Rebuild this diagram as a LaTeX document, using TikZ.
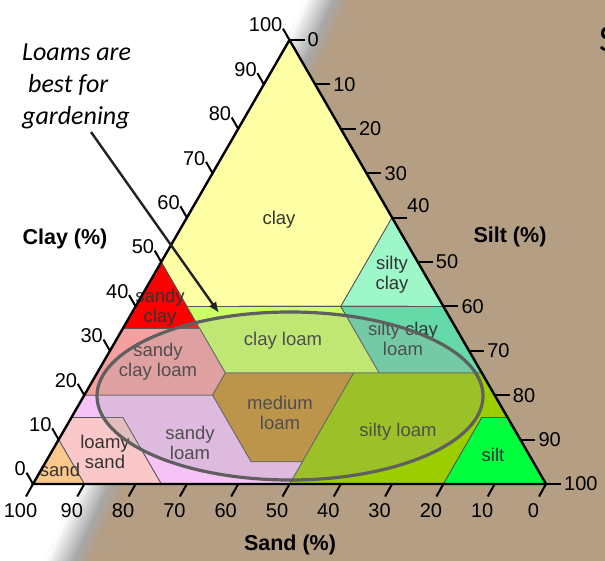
\documentclass[tikz,border=0pt]{standalone}
\usepackage{fontspec}
\setmainfont{Liberation Sans}
\newfontfamily\calib{Carlito}
\usetikzlibrary{arrows.meta}
\definecolor{bgtan}{HTML}{B49E84}
\definecolor{shd}{HTML}{A8A8A8}
\definecolor{cClay}{HTML}{FFFFA5}
\definecolor{cSiltyClay}{HTML}{9DF7C9}
\definecolor{cSandyClay}{HTML}{FF0000}
\definecolor{cClayLoam}{HTML}{CCFF66}
\definecolor{cSiltyClayLoam}{HTML}{66D9A8}
\definecolor{cSandyClayLoam}{HTML}{F4A0A0}
\definecolor{cMedLoam}{HTML}{C8922E}
\definecolor{cSiltyLoam}{HTML}{9BCD00}
\definecolor{cSandyLoam}{HTML}{F5C3F5}
\definecolor{cLoamySand}{HTML}{FAC8C8}
\definecolor{cSand}{HTML}{FAC88C}
\definecolor{cSilt}{HTML}{00FF3C}
\definecolor{edgegray}{HTML}{555555}
\definecolor{ellgray}{HTML}{5F5F5F}
\definecolor{overlay}{HTML}{A0A0A0}
\definecolor{lbl}{HTML}{333333}
\definecolor{arrc}{HTML}{222222}
\begin{document}
\begin{tikzpicture}[x=1pt,y=-1pt,
  region/.style={draw=edgegray,line width=0.8pt,line join=round},
  rlabel/.style={text=lbl,font=\fontsize{18.5}{20}\selectfont,align=center,inner sep=0pt},
  num/.style={font=\fontsize{20}{24}\selectfont,inner sep=0pt},
  axtitle/.style={font=\bfseries\fontsize{21.5}{25}\selectfont,inner sep=0pt},
  tk/.style={line width=2pt,black},
  notetext/.style={font=\calib\itshape\fontsize{26}{32}\selectfont,inner sep=0pt,anchor=base west}]
\useasboundingbox (0,0) rectangle (605,561);
% background
\fill[bgtan] (0,0) rectangle (605,561);
\fill[white] (0,0) -- (305,0) -- (45,561) -- (0,561) -- cycle;
\foreach \d in {0,2,...,44}{
  \pgfmathsetmacro\pa{min(100,\d*100/28)}
  \pgfmathsetmacro\pb{max(0,(\d-28)*100/16)}
  \colorlet{bandA}{shd!\pa!white}
  \colorlet{bandB}{bgtan!\pb!bandA}
  \fill[bandB] (305+\d,0) -- (308+\d,0) -- (48+\d,561) -- (45+\d,561) -- cycle;
}
% triangle corners
\coordinate (SA) at (33,484);
\coordinate (SI) at (546,484);
\coordinate (CL) at (289.5,40);
% region vertices (sand, clay, silt) as fractions
\coordinate (vB) at (barycentric cs:SA=0.50,CL=0.50);
\coordinate (vC) at (barycentric cs:SA=0.65,CL=0.35);
\coordinate (vD) at (barycentric cs:SA=0.50,CL=0.35,SI=0.15);
\coordinate (vE) at (barycentric cs:SA=0.50,CL=0.40,SI=0.10);
\coordinate (vF) at (barycentric cs:SA=0.20,CL=0.40,SI=0.40);
\coordinate (vG) at (barycentric cs:CL=0.60,SI=0.40);
\coordinate (vH) at (barycentric cs:CL=0.40,SI=0.60);
\coordinate (vI) at (barycentric cs:SA=0.20,CL=0.25,SI=0.55);
\coordinate (vJ) at (barycentric cs:CL=0.25,SI=0.75);
\coordinate (vK) at (barycentric cs:SA=0.50,CL=0.25,SI=0.25);
\coordinate (vL) at (barycentric cs:SA=0.25,CL=0.25,SI=0.50);
\coordinate (vM) at (barycentric cs:SA=0.55,CL=0.20,SI=0.25);
\coordinate (vN) at (barycentric cs:SA=0.80,CL=0.20);
\coordinate (vO) at (barycentric cs:SA=0.55,CL=0.05,SI=0.40);
\coordinate (vP) at (barycentric cs:SA=0.45,CL=0.05,SI=0.50);
\coordinate (vQ) at (barycentric cs:SA=0.50,SI=0.50);
\coordinate (vR) at (barycentric cs:SA=0.75,SI=0.25);
\coordinate (vS) at (barycentric cs:SA=0.75,CL=0.15,SI=0.10);
\coordinate (vT) at (barycentric cs:SA=0.85,CL=0.15);
\coordinate (vU) at (barycentric cs:SA=0.90,CL=0.10);
\coordinate (vV) at (barycentric cs:SA=0.90,SI=0.10);
\coordinate (vX) at (barycentric cs:CL=0.15,SI=0.85);
\coordinate (vY) at (barycentric cs:SA=0.05,CL=0.15,SI=0.80);
\coordinate (vZ) at (barycentric cs:SA=0.20,SI=0.80);
% regions
\filldraw[region,fill=cClay] (CL) -- (vB) -- (vE) -- (vF) -- (vG) -- cycle;
\filldraw[region,fill=cSandyClay] (vB) -- (vC) -- (vD) -- cycle;
\filldraw[region,fill=cSiltyClay] (vG) -- (vF) -- (vH) -- cycle;
\filldraw[region,fill=cClayLoam] (vE) -- (vF) -- (vI) -- (vK) -- cycle;
\filldraw[region,fill=cSiltyClayLoam] (vF) -- (vH) -- (vJ) -- (vI) -- cycle;
\filldraw[region,fill=cSandyClayLoam] (vC) -- (vD) -- (vK) -- (vM) -- (vN) -- cycle;
\filldraw[region,fill=cMedLoam] (vK) -- (vL) -- (vP) -- (vO) -- (vM) -- cycle;
\filldraw[region,fill=cSiltyLoam] (vL) -- (vJ) -- (vX) -- (vY) -- (vZ) -- (vQ) -- (vP) -- cycle;
\filldraw[region,fill=cSilt] (vY) -- (vX) -- (SI) -- (vZ) -- cycle;
\filldraw[region,fill=cSandyLoam] (vN) -- (vM) -- (vO) -- (vP) -- (vQ) -- (vR) -- (vS) -- (vT) -- cycle;
\filldraw[region,fill=cLoamySand] (vT) -- (vS) -- (vR) -- (vV) -- (vU) -- cycle;
\filldraw[region,fill=cSand] (vU) -- (vV) -- (SA) -- cycle;
% region labels
\node[rlabel] (lclay) at (279,220) {clay};
\node[rlabel] (lsiltyclay) at (392,275) {silty\\clay};
\node[rlabel] (lsandyclay) at (160,308) {sandy\\clay};
\node[rlabel] (lclayloam) at (283,341) {clay loam};
\node[rlabel] (lsiltyclayloam) at (403,339) {silty clay\\loam};
\node[rlabel] (lsandyclayloam) at (158,362) {sandy\\clay loam};
\node[rlabel] (lmedloam) at (280,413) {medium\\loam};
\node[rlabel] (lsiltyloam) at (398,432) {silty loam};
\node[rlabel] (lsandyloam) at (190,443) {sandy\\loam};
\node[rlabel] (lloamysand) at (105,452) {loamy\\sand};
\node[rlabel] (lsand) at (60,470) {sand};
\node[rlabel] (lsilt) at (493,455) {silt};
% loam ellipse
\filldraw[fill=overlay,fill opacity=0.25,draw=ellgray,line width=3.2pt] (290,396) ellipse [x radius=193,y radius=84];
% triangle outline
\draw[line width=2.4pt,line join=miter] (SA) -- (SI) -- (CL) -- cycle;
% clay axis (left)
\foreach \c in {0,10,...,100}{
  \draw[tk] ({33+2.565*\c},{484-4.44*\c}) -- ++(-6.5,-11.3);
  \node[num,anchor=east] (cl\c) at ({33+2.565*\c-7},{484-4.44*\c-15}) {\c};
}
% silt axis (right)
\foreach \s in {0,10,20,30,50,60,70,80,90,100}{
  \draw[tk] ({289.5+2.565*\s},{40+4.44*\s}) -- ++(15,0);
  \node[num,anchor=west] (si\s) at ({289.5+2.565*\s+18},{40+4.44*\s}) {\s};
}
\draw[tk] (392.1,217.6) -- ++(15,0);
\node[num,anchor=south west] (si40) at (407,213) {40};
% sand axis (bottom)
\foreach \v in {0,10,...,100}{
  \draw[tk] ({546-5.13*\v},484) -- ++(-7,12.5);
  \node[num] (sa\v) at ({546-5.13*\v-12.5},511) {\v};
}
% axis titles
\node[axtitle] (tclay) at (65,239) {Clay (\%)};
\node[axtitle] (tsilt) at (510,237) {Silt (\%)};
\node[axtitle] (tsand) at (290,545) {Sand (\%)};
% note
\node[notetext] (n1) at (22,61) {Loams are};
\node[notetext] (n2) at (28,93) {best for};
\node[notetext] (n3) at (22,125) {gardening};
\node[inner sep=0pt,anchor=base west,font=\calib\fontsize{38}{40}\selectfont] (ttl) at (599,52) {S};
\coordinate (arrS) at (91,132);
\coordinate (arrE) at (219,313);
\draw[line width=2.4pt,draw=arrc,-{Latex[length=11pt,width=9pt]}] (arrS) -- (arrE);
\end{tikzpicture}
\end{document}
